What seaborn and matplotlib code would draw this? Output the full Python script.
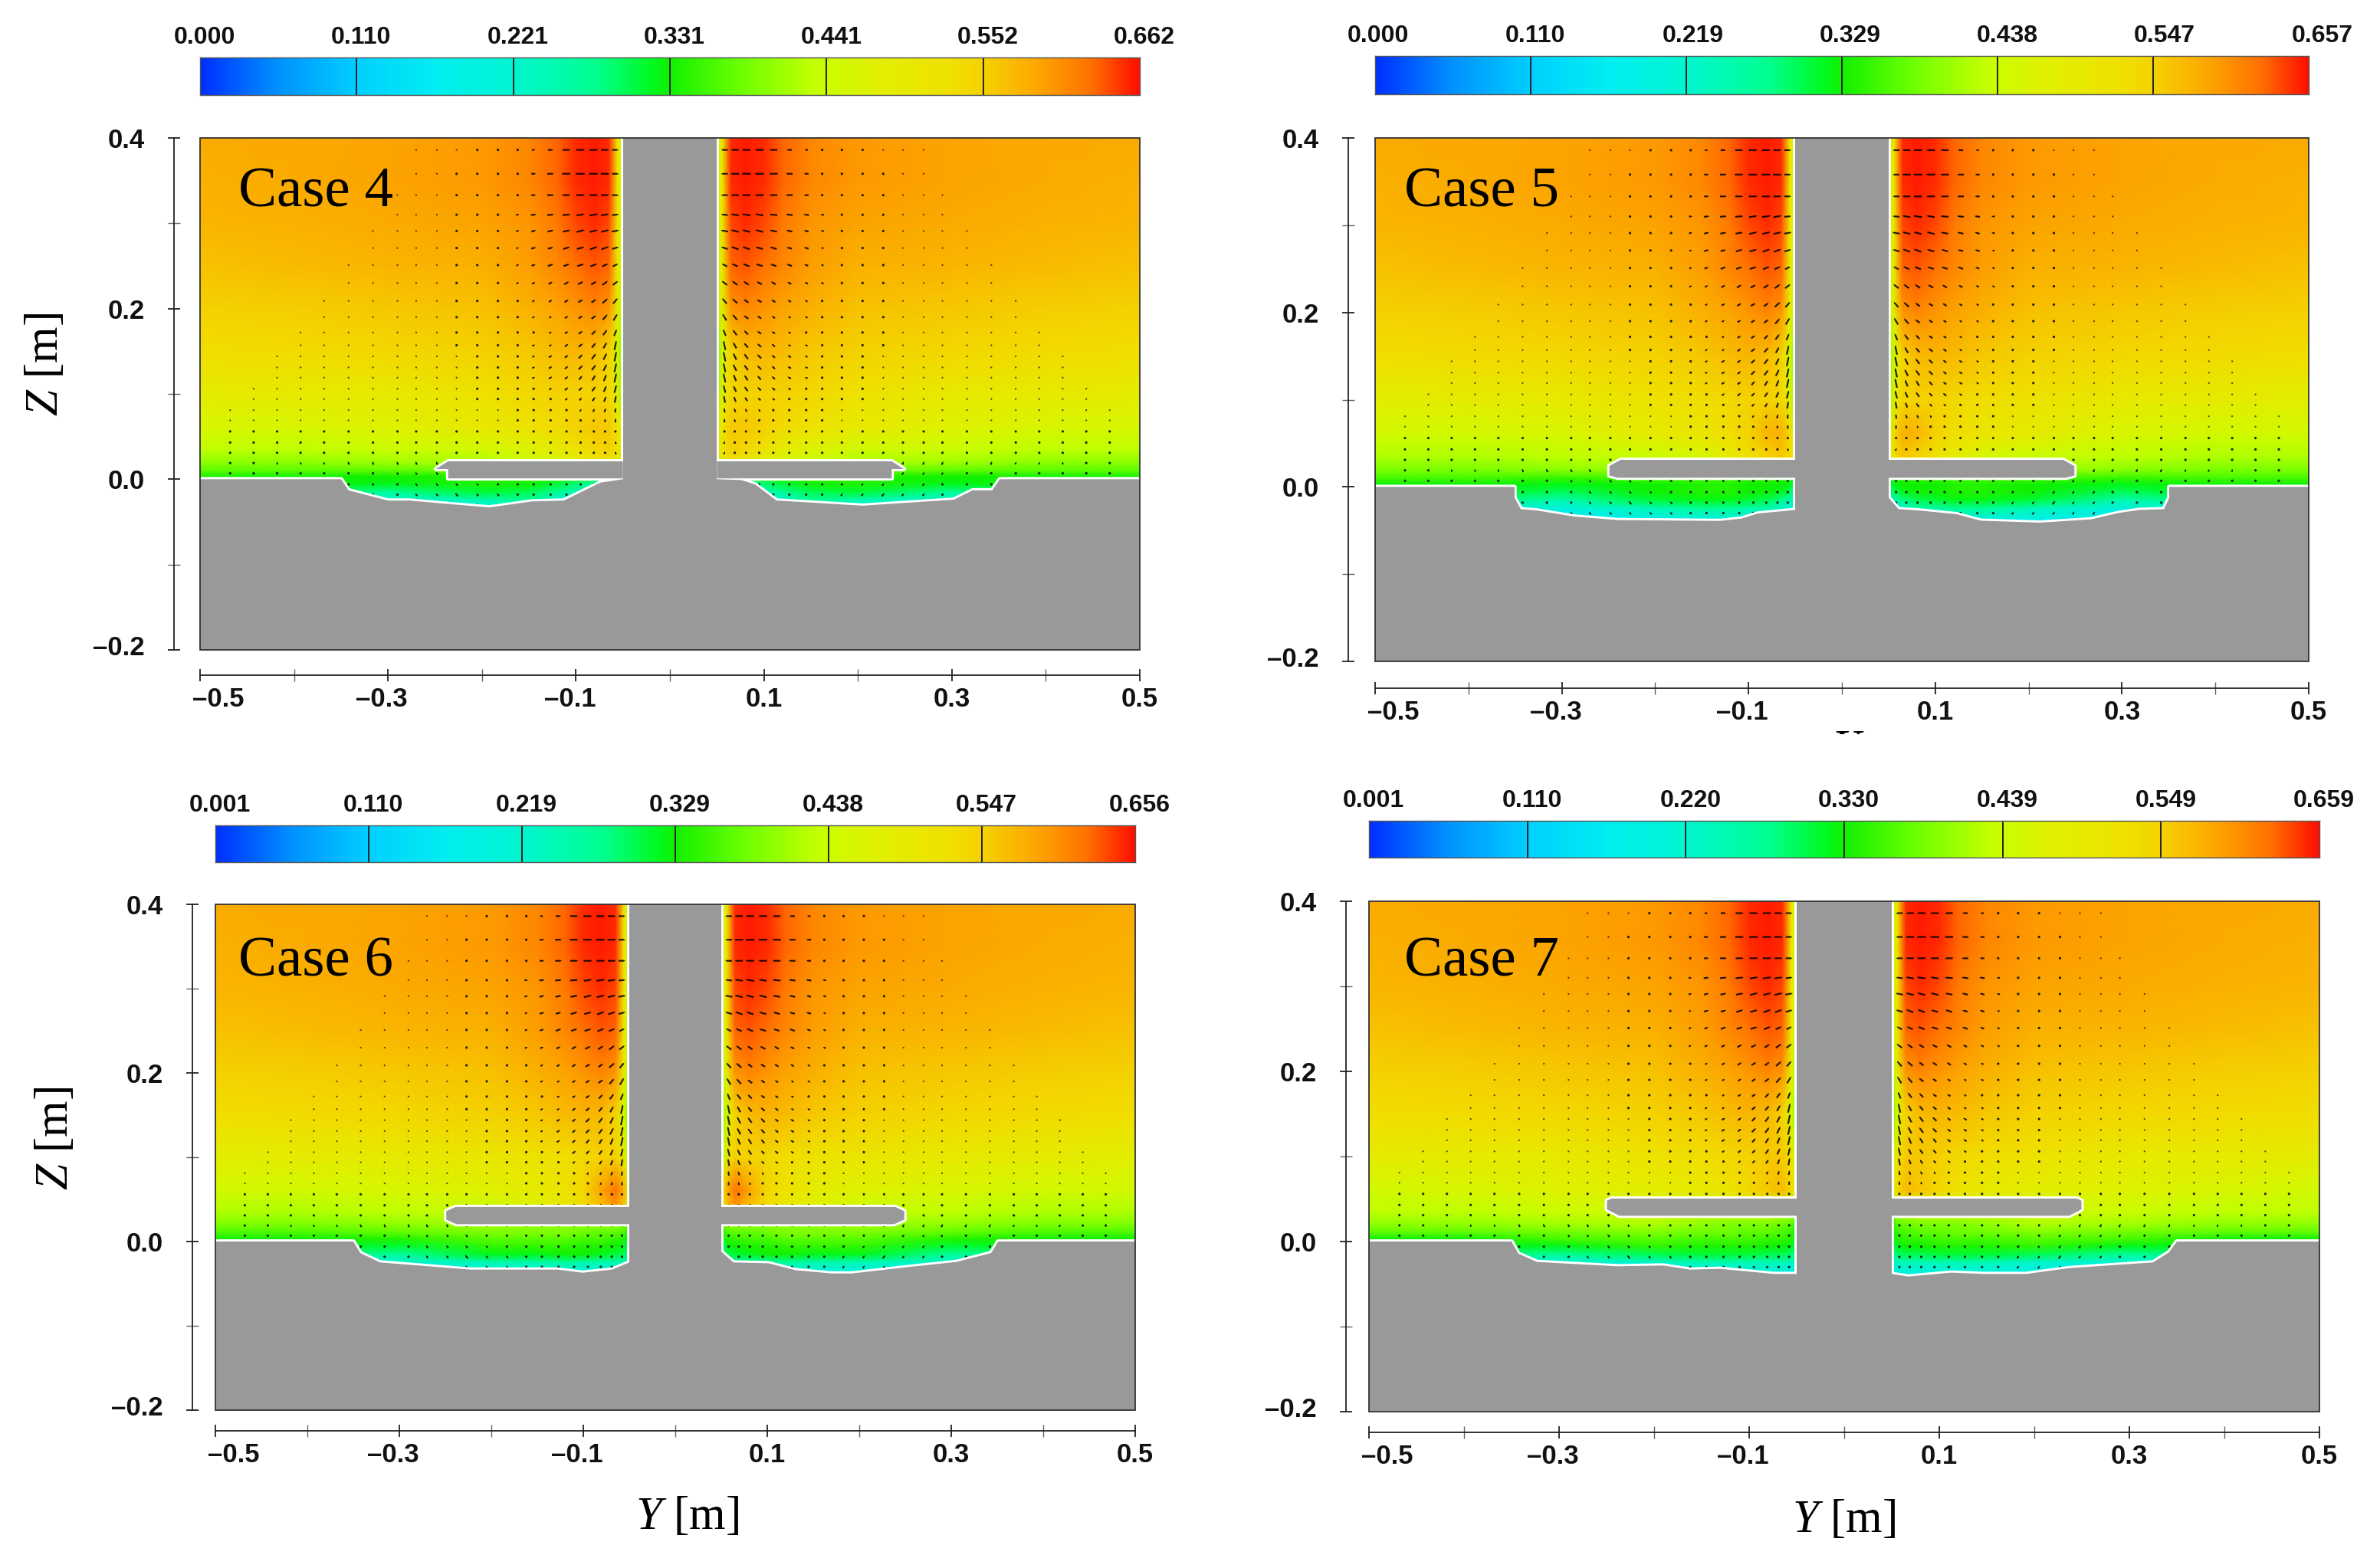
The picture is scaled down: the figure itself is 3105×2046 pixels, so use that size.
import numpy as np
import matplotlib
matplotlib.use("Agg")
import matplotlib.pyplot as plt
import seaborn as sns
from matplotlib.colors import LinearSegmentedColormap
from matplotlib.patches import Polygon, Rectangle
from matplotlib.transforms import Bbox, ScaledTranslation

W, H = 3105, 2046
_ = np.nan

case_names = ["Case 4", "Case 5", "Case 6", "Case 7"]
cbar_labels = [
    ["0.000", "0.110", "0.221", "0.331", "0.441", "0.552", "0.662"],
    ["0.000", "0.110", "0.219", "0.329", "0.438", "0.547", "0.657"],
    ["0.001", "0.110", "0.219", "0.329", "0.438", "0.547", "0.656"],
    ["0.001", "0.110", "0.220", "0.330", "0.439", "0.549", "0.659"],
]
y_ticks = [-0.5, -0.3, -0.1, 0.1, 0.3, 0.5]
y_tick_labels = ["\u20130.5", "\u20130.3", "\u20130.1", "0.1", "0.3", "0.5"]
y_label_shift = [24, -8, -8, 0, 0, 0]
y_minor = [-0.4, -0.2, 0.0, 0.2, 0.4]
z_ticks = [-0.2, 0.0, 0.2, 0.4]
z_tick_labels = ["\u20130.2", "0.0", "0.2", "0.4"]
z_minor = [-0.1, 0.1, 0.3]

# colour field nodes, left half of the flume, right half is mirrored
field_y = [-0.5, -0.4, -0.3, -0.2, -0.15, -0.12, -0.1, -0.08, -0.065, -0.056, -0.05]
field_z = [0.4, 0.35, 0.3, 0.25, 0.2, 0.15, 0.1, 0.06, 0.035, 0.02, 0.01, 0.003, -0.005, -0.015, -0.025, -0.04]
field_top = [
    [.585, .587, .59, .597, .61, .63, .65, .655, .65, .52, .44],
    [.58, .585, .59, .597, .61, .63, .65, .655, .65, .52, .44],
    [.575, .58, .585, .59, .60, .62, .64, .65, .64, .52, .44],
    [.565, .57, .575, .58, .595, .61, .625, .635, .63, .51, .43],
    [.55, .555, .56, .565, .58, .59, .60, .61, .60, .50, .42],
    [.53, .535, .54, .55, .56, .57, .575, .57, .55, .46, .38],
]
field_low_4 = [
    [.49, .50, .50, .52, .54, .55, .55, .55, .54, .48, .40],
    [.46, .46, .47, .50, .52, .535, .55, .56, .56, .52, .46],
    [.43, .43, .44, .45, .47, .49, .52, .54, .55, .52, .48],
    [.40, .40, .41, .42, .44, .46, .48, .50, .52, .50, .46],
    [.37, .37, .37, .38, .40, .40, .40, .40, .40, .40, .40],
    [.335, .33, .33, .34, .36, .36, .36, .36, .36, .36, .36],
    [.33, .33, .32, .34, .33, .31, .29, .26, .22, .20, .20],
    [.30, .30, .27, .31, .30, .27, .25, .20, .18, .18, .18],
    [.20, .20, .20, .24, .27, .22, .20, .18, .18, .18, .18],
    [.18, .18, .18, .18, .18, .18, .18, .18, .18, .18, .18],
]
field_low_5 = [
    [.48, .49, .50, .52, .53, .54, .55, .55, .54, .48, .40],
    [.45, .45, .46, .49, .51, .53, .55, .575, .58, .54, .46],
    [.42, .42, .43, .44, .46, .49, .52, .55, .56, .53, .48],
    [.39, .39, .40, .41, .43, .44, .45, .46, .47, .47, .45],
    [.36, .36, .35, .36, .36, .36, .35, .35, .34, .34, .33],
    [.33, .33, .32, .33, .34, .34, .33, .33, .33, .32, .30],
    [.32, .32, .30, .33, .34, .34, .33, .33, .32, .30, .25],
    [.29, .29, .25, .31, .32, .32, .31, .30, .28, .25, .22],
    [.20, .20, .19, .24, .27, .27, .25, .25, .22, .20, .19],
    [.16, .16, .16, .16, .16, .16, .16, .16, .16, .16, .16],
]
field_low_6 = [
    [.48, .49, .50, .51, .52, .53, .54, .55, .55, .50, .42],
    [.45, .45, .46, .47, .49, .52, .54, .59, .625, .58, .50],
    [.42, .42, .43, .44, .47, .50, .53, .56, .59, .55, .48],
    [.39, .39, .40, .41, .40, .40, .40, .40, .40, .39, .36],
    [.36, .36, .37, .39, .39, .39, .38, .37, .37, .36, .33],
    [.33, .33, .34, .37, .37, .37, .36, .36, .35, .34, .31],
    [.32, .32, .31, .35, .35, .35, .34, .34, .33, .32, .28],
    [.29, .29, .27, .32, .32, .33, .33, .32, .31, .30, .26],
    [.20, .20, .21, .24, .25, .26, .25, .24, .24, .24, .22],
    [.17, .17, .17, .17, .17, .17, .17, .17, .17, .17, .17],
]
field_low_7 = [
    [.49, .50, .50, .52, .53, .54, .55, .56, .56, .52, .44],
    [.45, .46, .47, .48, .50, .52, .54, .56, .57, .54, .48],
    [.43, .43, .44, .45, .44, .44, .44, .44, .43, .42, .40],
    [.40, .40, .41, .42, .40, .39, .39, .39, .38, .37, .34],
    [.37, .37, .38, .39, .38, .38, .37, .37, .36, .35, .32],
    [.33, .33, .36, .37, .36, .36, .36, .35, .35, .34, .31],
    [.32, .32, .32, .35, .34, .34, .34, .33, .33, .32, .29],
    [.29, .29, .27, .30, .31, .31, .31, .30, .30, .29, .27],
    [.20, .20, .20, .22, .24, .24, .24, .24, .24, .23, .22],
    [.17, .17, .17, .17, .17, .17, .17, .17, .17, .17, .17],
]
field_lows = [field_low_4, field_low_5, field_low_6, field_low_7]

# velocity vectors, left half, in pixels
arrow_y = [-.468, -.443, -.418, -.393, -.368, -.342, -.316, -.29, -.27, -.248, -.227,
           -.205, -.183, -.162, -.145, -.127, -.11, -.095, -.081, -.069, -.058]
arrow_z = [.386, .358, .333, .31, .291, .271, .251, .23, .209, .19, .172, .157, .144, .131,
           .119, .106, .094, .081, .069, .056, .043, .031, .019, .007, -.006, -.018, -.03]
arrow_u = [
    [_]*8 + [0, 0, 0, 1, 2, 3, 5, 8, 12, 13, 13, 12, 10],
    [_]*8 + [0, 0, 1, 1, 2, 4, 7, 10, 13, 14, 14, 13, 10],
    [_]*7 + [0, 0, 0, 1, 2, 2, 4, 7, 10, 12, 13, 13, 12, 10],
    [_]*7 + [0, 0, 0, 1, 2, 3, 5, 8, 10, 12, 12, 13, 12, 10],
    [_]*6 + [0, 0, 0, 0, 1, 2, 3, 5, 7, 9, 11, 12, 12, 12, 11],
    [_]*6 + [0, 0, 0, 0, 1, 1, 3, 4, 7, 8, 10, 11, 11, 11, 10],
    [_]*5 + [0, 0, 0, 0, 0, 1, 1, 3, 4, 6, 8, 9, 10, 10, 9, 8],
    [_]*5 + [0, 0, 0, 0, 0, 1, 1, 2, 4, 5, 6, 7, 8, 8, 8, 8],
    [_]*4 + [0, 0, 0, 0, 0, 0, 1, 1, 2, 3, 4, 5, 6, 7, 7, 8, 7],
    [_]*4 + [0, 0, 0, 0, 0, 0, 1, 1, 2, 3, 4, 4, 5, 6, 7, 7, 6],
    [_]*3 + [0, 0, 0, 0, 0, 0, 0, 1, 1, 2, 3, 3, 4, 5, 6, 6, 6, 4],
    [_]*3 + [0, 0, 0, 0, 0, 0, 0, 1, 1, 2, 3, 4, 4, 5, 6, 6, 5, 3],
    [_]*2 + [0, 0, 0, 0, 0, 0, 0, 0, 0, 1, 2, 3, 4, 5, 5, 6, 6, 5, 3],
    [_]*2 + [0, 0, 0, 0, 0, 0, 0, 0, 0, 1, 2, 3, 4, 5, 5, 6, 6, 5, 3],
    [_]*2 + [0, 0, 0, 0, 0, 0, 0, 0, 0, 1, 2, 3, 4, 5, 5, 5, 5, 4, 3],
    [_] + [0]*10 + [1, 1, 2, 3, 4, 5, 5, 5, 4, 3],
    [_] + [0]*10 + [1, 1, 2, 3, 3, 4, 4, 4, 3, 2],
    [0]*13 + [1, 1, 2, 2, 2, 2, 2, 1],
    [0]*14 + [1, 1, 2, 1, 1, 1, 0],
    [0, 0, 0, 0, -1, -1, -1] + [0]*11 + [1, 0, -1],
    [0, 0, 0, -1, -1, -1, -1] + [0]*11 + [0, -1, -2],
    [0, 0, -1, -1, -1, -1, -1, -1, -1] + [0]*9 + [0, -1, -2],
    [0, 0, -1, -1, -1, -2, -2, -2, -2, -2, -1, -1, -1] + [0]*8,
    [0, 0, 0, 0, -1, -1, -2, -2, -2, -3, -3, -2, -2, -1, -1, 0, 0, 0, 0, 0, 0],
    [0, 0, 0, 0, 0, -1, -1, -2, -3, -3, -3, -3, -2, -2, -2, -1, -1, 0, 0, 0, 0],
    [0]*5 + [-1, -2, -2, -3, -3, -4, -3, -3, -2, -2, -1, -1, 0, 0, 0, 0],
    [0]*6 + [-2, -3, -3, -3, -3, -3, -3, -2, -2, -1, -1, 0, 0, 0, 0],
]
arrow_v = [
    [0]*21,
    [0]*21,
    [0]*21,
    [0]*14 + [1, 1, 1, 2, 2, 2, 1],
    [0]*12 + [1, 1, 2, 2, 2, 3, 3, 3, 2],
    [0]*12 + [1, 1, 2, 2, 3, 3, 4, 4, 3],
    [0]*12 + [1, 2, 2, 3, 3, 3, 4, 4, 4],
    [0]*12 + [1, 2, 2, 3, 4, 4, 5, 6, 6],
    [0]*12 + [1, 2, 2, 3, 4, 4, 5, 7, 8],
    [0]*12 + [1, 1, 2, 2, 3, 4, 5, 8, 10],
    [0]*12 + [1, 1, 1, 2, 3, 4, 6, 8, 10],
    [0]*12 + [1, 1, 2, 2, 4, 5, 7, 9, 14],
    [0]*12 + [1, 1, 2, 3, 4, 6, 8, 10, 15],
    [0]*12 + [1, 1, 2, 3, 4, 6, 8, 10, 14],
    [0]*12 + [1, 1, 2, 3, 4, 6, 8, 10, 14],
    [0]*12 + [1, 1, 2, 3, 4, 5, 7, 9, 12],
    [0]*12 + [1, 1, 2, 2, 3, 4, 6, 8, 11],
    [0]*13 + [1, 1, 2, 3, 4, 5, 6, 7],
    [0]*13 + [1, 1, 2, 3, 3, 4, 5, 6],
    [2]*7 + [1]*6 + [1, 1, 1, 2, 2, 3, 3, 3],
    [3]*7 + [1]*7 + [1, 1, 1, 2, 2, 3, 4],
    [3]*9 + [1]*5 + [1, 1, 1, 2, 2, 3, 4],
    [2, 3, 4, 4, 4, 5, 5, 5, 5, 5, 4, 3, 2] + [1]*8,
    [1, 1, 2, 2, 3, 3, 3, 4, 4, 4, 4, 3, 3, 2, 2, 1, 1, 1, 1, 1, 1],
    [1, 1, 1, 1, 2, 2, 3, 3, 4, 4, 4, 3, 3, 3, 2, 2, 2, 1, 1, 1, 1],
    [1]*5 + [2, 3, 3, 4, 4, 5, 4, 4, 3, 3, 2, 2, 1, 1, 1, 1],
    [1]*6 + [3, 4, 4, 4, 4, 4, 4, 3, 3, 2, 2, 1, 1, 1, 1],
]

# scour hole outlines (Y, Z), left then right of the pier
scour_4 = [(-.35, 0), (-.342, -.013), (-.30, -.025), (-.277, -.025), (-.236, -.029), (-.192, -.033),
           (-.147, -.026), (-.113, -.025), (-.074, -.004), (-.05, 0), (.051, 0), (.076, -.001), (.0905, -.006),
           (.1135, -.025), (.145, -.027), (.205, -.031), (.26, -.027), (.302, -.024), (.322, -.013),
           (.343, -.013), (.351, 0)]
scour_5 = [(-.3507, 0), (-.3507, -.0123), (-.344, -.0255), (-.327, -.027), (-.2866, -.034), (-.2405, -.038),
           (-.1306, -.039), (-.1075, -.0363), (-.09, -.0305), (-.05, -.0264), (.05, -.0123), (.0607, -.0255),
           (.0825, -.027), (.1228, -.0313), (.1487, -.0387), (.212, -.041), (.2668, -.0372), (.2956, -.03),
           (.3186, -.0264), (.345, -.0255), (.3506, -.0123), (.3506, 0)]
scour_6 = [(-.35, 0), (-.3425, -.0136), (-.321, -.0248), (-.2228, -.0333), (-.1275, -.0333), (-.1008, -.037),
           (-.0687, -.0333), (-.05, -.0248), (.05, -.012), (.0632, -.0248), (.1014, -.0258), (.1307, -.034),
           (.1705, -.0379), (.1917, -.0379), (.2529, -.0303), (.3058, -.0242), (.3435, -.0136), (.351, 0)]
scour_7 = [(-.35, 0), (-.343, -.0141), (-.3233, -.024), (-.2383, -.0291), (-.1903, -.0282), (-.162, -.033),
           (-.1307, -.0321), (-.0742, -.0381), (-.05, -.0381), (.05, -.0381), (.0673, -.0411), (.1126, -.0366),
           (.1465, -.0381), (.1918, -.0381), (.2371, -.0312), (.3248, -.0246), (.3418, -.0126), (.35, 0)]
scours = [scour_4, scour_5, scour_6, scour_7]

# collar outlines, left side; right side is mirrored
collar_4 = [(-.05, .021), (-.236, .021), (-.249, .012), (-.236, .012), (-.236, .001), (-.05, .001)]
collar_5 = [(-.05, .031), (-.237, .031), (-.249, .024), (-.249, .013), (-.24, .0105), (-.05, .0105)]
collar_6 = [(-.05, .041), (-.239, .041), (-.249, .036), (-.249, .026), (-.238, .0206), (-.05, .0206)]
collar_7 = [(-.05, .0505), (-.245, .0505), (-.2496, .048), (-.2496, .0378), (-.2366, .0303), (-.05, .0303)]
collars = [collar_4, collar_5, collar_6, collar_7]

# page layout in pixels: left, right, top, bottom of plot, colourbar top and bottom,
# z axis offset, y axis offset
boxes = [
    (261, 1487, 180, 848, 75, 124, 34, 33),
    (1794, 3012, 180, 863, 73, 123, 35, 35),
    (281, 1481, 1180, 1840, 1077, 1125, 30, 27),
    (1786, 3026, 1176, 1842, 1071, 1119, 30, 27),
]
case_pos = [(311, 270), (1832, 270), (311, 1273), (1832, 1273)]
cbar_shift = [6, 4, 6, 6]
cbar_spread = [1.0, 1.011, 1.0, 1.0]

cfd_colors = [(0, "#0030ff"), (.08, "#0090ff"), (.167, "#00d0ff"), (.25, "#00eef0"), (.33, "#00f5d0"),
              (.42, "#00ff90"), (.48, "#00fa20"), (.5, "#10f000"), (.58, "#70ff00"), (.66, "#c8ff00"),
              (.72, "#e0f000"), (.8, "#f0e000"), (.84, "#f5cf00"), (.9, "#fda000"), (.95, "#ff7000"), (1, "#ff1000")]
cfd_cmap = LinearSegmentedColormap.from_list("cfd", cfd_colors, N=512)

sns.set_theme(style="white")
plt.rcParams["font.family"] = ["Liberation Sans", "DejaVu Sans"]
plt.rcParams["mathtext.fontset"] = "custom"
plt.rcParams["mathtext.it"] = "Liberation Serif:italic"
plt.rcParams["mathtext.rm"] = "Liberation Serif"

fig = plt.figure(figsize=(W / 100, H / 100), dpi=100, facecolor="white")


def px_axes(l, r, t, b):
    return fig.add_axes([l / W, 1 - b / H, (r - l) / W, (b - t) / H])


def px_text(x, y, s, **kw):
    return fig.text(x / W, 1 - y / H, s, **kw)


def shift_label(lab, dx, dy):
    lab.set_transform(lab.get_transform() + ScaledTranslation(dx / 100, dy / 100, fig.dpi_scale_trans))


GRAY = "#999999"
strip = np.arange(256)[None, :]
full_y = np.array(field_y + [-v for v in field_y[::-1]])
qy = np.array(arrow_y)
qz = np.array(arrow_z)
au = np.array(arrow_u, dtype=float)
av = np.array(arrow_v, dtype=float)

for i in range(4):
    l, r, t, b, ct, cb, zo, yo = boxes[i]

    # colourbar strip
    cax = px_axes(l, r, ct, cb)
    sns.heatmap(strip, ax=cax, cmap=cfd_cmap, cbar=False, xticklabels=False, yticklabels=False)
    for k in range(1, 6):
        cax.axvline(k * 256 / 6, color="#222222", lw=1.4)
    for sp in cax.spines.values():
        sp.set_visible(True)
        sp.set_color("#555555")
        sp.set_linewidth(1.0)
    for k, lab in enumerate(cbar_labels[i]):
        px = l + (r - l) * k / 6 * cbar_spread[i] + cbar_shift[i]
        px_text(px, ct - 11, lab, ha="center", va="bottom", fontsize=23, fontweight="bold", color="#111111")

    ax = px_axes(l, r, t, b)
    ax.set_xlim(-0.5, 0.5)
    ax.set_ylim(-0.2, 0.4)

    # colour field
    half = np.array(field_top + field_lows[i])
    full = np.hstack([half, half[:, ::-1]])
    ax.pcolormesh(full_y, np.array(field_z), full, cmap=cfd_cmap, vmin=0, vmax=.66,
                  shading="gouraud", zorder=1)

    # velocity vectors, still points drawn fainter than moving ones
    qx = np.concatenate([qy, -qy[::-1]])
    qu = np.hstack([au, -au[:, ::-1]])
    qv = np.hstack([av, av[:, ::-1]])
    gx, gz = np.meshgrid(qx, qz)
    still = (qu == 0) & (qv == 0)
    ax.quiver(gx[still], gz[still], qu[still], qv[still], color="black", alpha=0.6, units="dots", width=2.6,
              scale_units="dots", scale=1, angles="uv", pivot="mid", headwidth=1, headlength=1,
              headaxislength=1, minshaft=1, minlength=1, zorder=2)
    moving = ~still & ~np.isnan(qu)
    ax.quiver(gx[moving], gz[moving], qu[moving], qv[moving], color="black", alpha=0.85, units="dots", width=2.2,
              scale_units="dots", scale=1.15, angles="uv", pivot="mid", headwidth=1, headlength=1,
              headaxislength=1, minshaft=1, minlength=1.6, zorder=2)

    # solids: white outline first, gray fill on top so only the flow side shows white
    bed = [(-.5, -.2), (-.5, 0)] + scours[i] + [(.5, 0), (.5, -.2)]
    pier = [(-.05, -.2), (-.05, .4), (.05, .4), (.05, -.2)]
    collar_l = collars[i]
    collar_r = [(-y, z) for y, z in collar_l]
    for pts in (bed, pier, collar_l, collar_r):
        ax.add_patch(Polygon(pts, closed=True, fc="white", ec="white", lw=4.2, zorder=3, joinstyle="round"))
    for pts in (bed, pier, collar_l, collar_r):
        ax.add_patch(Polygon(pts, closed=True, fc=GRAY, ec="none", zorder=4))

    ax.add_patch(Rectangle((0, 0), 1, 1, transform=ax.transAxes, fill=False, ec="#333333", lw=1.3,
                           zorder=6, clip_on=False))

    # detached axes
    ax.spines["top"].set_visible(False)
    ax.spines["right"].set_visible(False)
    ax.spines["left"].set_position(("outward", zo * 0.72))
    ax.spines["bottom"].set_position(("outward", yo * 0.72))
    for side in ("left", "bottom"):
        ax.spines[side].set_color("#222222")
        ax.spines[side].set_linewidth(1.3)
    ax.set_xticks(y_ticks)
    ax.set_xticklabels(y_tick_labels)
    ax.set_xticks(y_minor, minor=True)
    ax.set_yticks(z_ticks)
    ax.set_yticklabels(z_tick_labels)
    ax.set_yticks(z_minor, minor=True)
    ax.tick_params(axis="both", which="major", bottom=True, left=True, direction="inout", length=11.5,
                   width=1.3, color="#222222", labelsize=25, labelcolor="#111111")
    ax.tick_params(axis="both", which="minor", bottom=True, left=True, direction="inout", length=11.5,
                   width=1.0, color="#666666")
    ax.tick_params(axis="x", which="major", pad=5)
    ax.tick_params(axis="y", which="major", pad=22)
    for lab in ax.get_xticklabels() + ax.get_yticklabels():
        lab.set_fontweight("bold")
    for lab, dx in zip(ax.get_xticklabels(), y_label_shift):
        shift_label(lab, dx, 0)
    shift_label(ax.get_yticklabels()[0], 0, 6)

    px_text(case_pos[i][0], case_pos[i][1], case_names[i], family="Liberation Serif", fontsize=54,
            ha="left", va="baseline", color="black", zorder=10)

px_text(60, 475, r"$\mathit{Z}$ [m]", rotation=90, ha="center", va="center", fontsize=44,
        family="Liberation Serif", color="black")
px_text(73, 1485, r"$\mathit{Z}$ [m]", rotation=90, ha="center", va="center", fontsize=44,
        family="Liberation Serif", color="black")
px_text(897, 1980, r"$\mathit{Y}$ [m]", ha="center", va="center", fontsize=44,
        family="Liberation Serif", color="black")
px_text(2406, 1984, r"$\mathit{Y}$ [m]", ha="center", va="center", fontsize=44,
        family="Liberation Serif", color="black")

# the top of a cropped axis title shows under Case 5
cut = px_text(2412, 950, r"$\mathit{Y}$", ha="center", va="top", fontsize=44, color="black")
cut.set_clip_box(Bbox([[0, H - 958], [W, H]]))
cut.set_clip_on(True)

fig.savefig("out.png", dpi=100, facecolor="white")
